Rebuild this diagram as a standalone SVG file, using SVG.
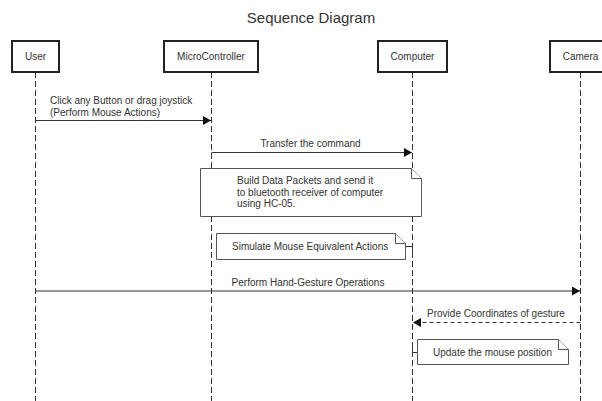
<svg xmlns="http://www.w3.org/2000/svg" width="602" height="401" viewBox="0 0 602 401">
<defs>
<marker id="arr" markerWidth="9" markerHeight="9" refX="8" refY="4.5" orient="auto" markerUnits="userSpaceOnUse">
<path d="M0,0 L8,4.5 L0,9 Z" fill="#111"/>
</marker>
</defs>
<style>
text{font-family:"Liberation Sans",Arial,sans-serif;fill:#333;font-size:10px}
.title{font-size:15px;fill:#333}
.box{fill:#fff;stroke:#222;stroke-width:2}
.life{stroke:#333;stroke-width:1;stroke-dasharray:6,3;fill:none}
.msg{stroke:#333;stroke-width:1;fill:none}
.dash{stroke-dasharray:4,3}
.note{fill:#fff;stroke:#555;stroke-width:1}
</style>
<rect width="602" height="401" fill="#fff"/>
<text class="title" x="311" y="23" text-anchor="middle">Sequence Diagram</text>

<g id="lifelines">
<line class="life" x1="35.5" y1="72" x2="35.5" y2="401"/>
<line class="life" x1="211.5" y1="72" x2="211.5" y2="401"/>
<line class="life" x1="412.5" y1="72" x2="412.5" y2="401"/>
<line class="life" x1="580.5" y1="72" x2="580.5" y2="401"/>
</g>

<g id="user"><rect class="box" x="12" y="41" width="47" height="31"/><text x="35.5" y="60" text-anchor="middle">User</text></g>
<g id="microcontroller"><rect class="box" x="164" y="41" width="94" height="31"/><text x="211" y="60" text-anchor="middle">MicroController</text></g>
<g id="computer"><rect class="box" x="378" y="41" width="69" height="31"/><text x="412.5" y="60" text-anchor="middle">Computer</text></g>
<g id="camera"><rect class="box" x="550" y="41" width="62" height="31"/><text x="580.5" y="60" text-anchor="middle">Camera</text></g>

<g id="connectors">
<line class="msg" x1="35.5" y1="120.5" x2="211" y2="120.5" marker-end="url(#arr)"/>
<text x="50" y="104">Click any Button or drag joystick</text>
<text x="50" y="115.5">(Perform Mouse Actions)</text>
<line class="msg" x1="211.5" y1="152.5" x2="412" y2="152.5" marker-end="url(#arr)"/>
<text x="310.5" y="147" text-anchor="middle">Transfer the command</text>
<line class="msg" x1="406" y1="246.5" x2="412.5" y2="246.5"/>
<line class="msg" x1="412.5" y1="246.5" x2="412.5" y2="253"/>
<line class="msg" x1="35.5" y1="291" x2="580" y2="291" marker-end="url(#arr)"/>
<text x="308" y="286" text-anchor="middle">Perform Hand-Gesture Operations</text>
<line class="msg dash" x1="580.5" y1="322.5" x2="413" y2="322.5" marker-end="url(#arr)"/>
<text x="496" y="317" text-anchor="middle">Provide Coordinates of gesture</text>
<path class="msg" d="M412.5,344 V352.5 H417.5"/>
</g>

<g id="note1">
<path class="note" d="M200.5,168.5 H411.5 L421.5,178.5 V216.5 H200.5 Z"/>
<path class="note" d="M411.5,168.5 V178.5 H421.5" fill="none"/>
<text x="237" y="184">Build Data Packets and send it</text>
<text x="237" y="195.5">to bluetooth receiver of computer</text>
<text x="237" y="207">using HC-05.</text>
</g>
<g id="note2">
<path class="note" d="M216.5,233.5 H395.5 L405.5,243.5 V259.5 H216.5 Z"/>
<path class="note" d="M395.5,233.5 V243.5 H405.5" fill="none"/>
<text x="232" y="249.5">Simulate Mouse Equivalent Actions</text>
</g>
<g id="note3">
<path class="note" d="M417.5,339.5 H558.5 L568.5,349.5 V364.5 H417.5 Z"/>
<path class="note" d="M558.5,339.5 V349.5 H568.5" fill="none"/>
<text x="433" y="355.5">Update the mouse position</text>
</g>
</svg>
